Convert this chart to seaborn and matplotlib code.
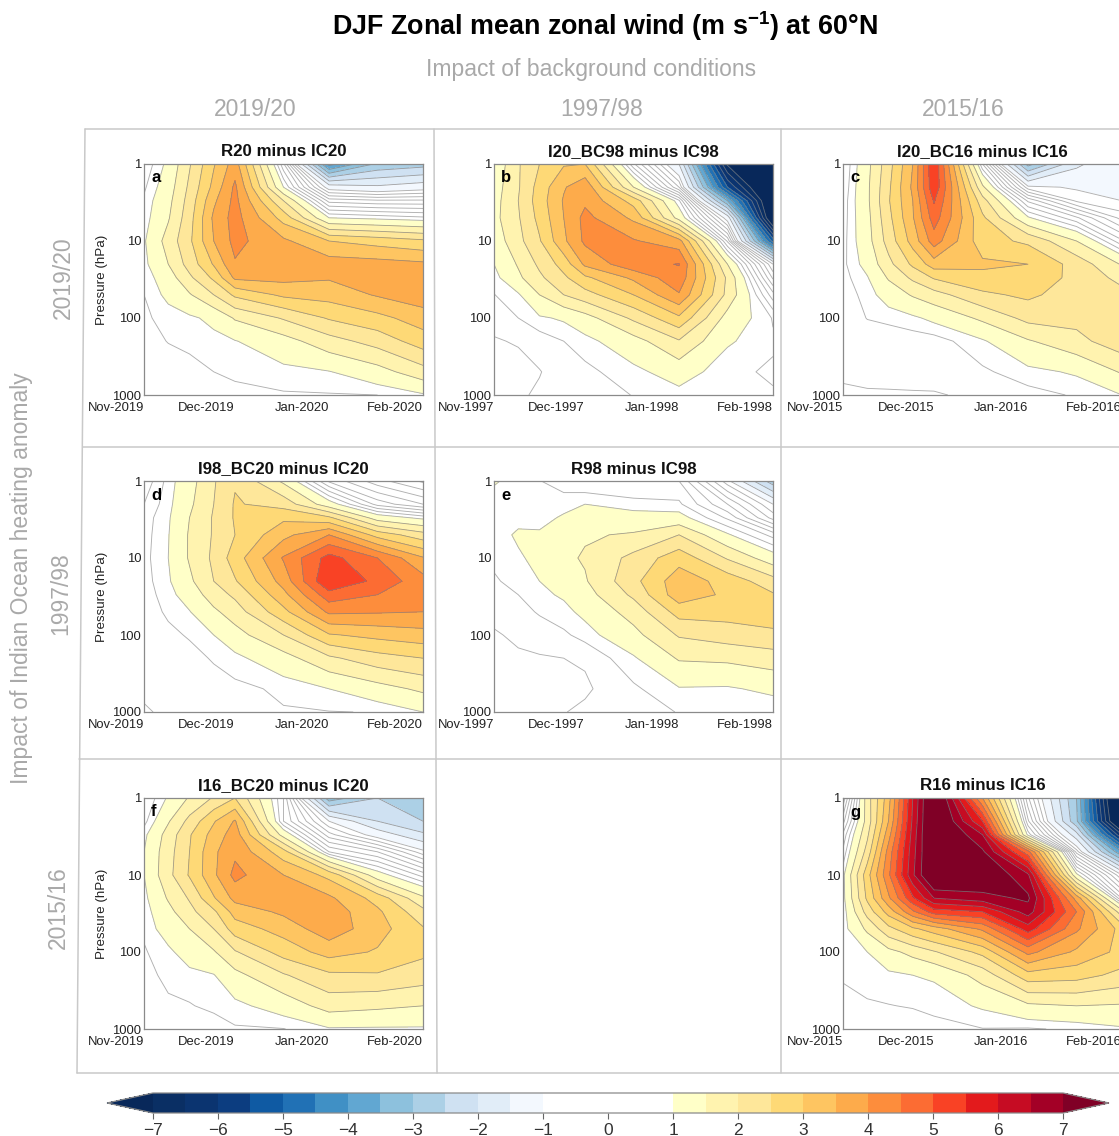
import numpy as np
import matplotlib
matplotlib.use('Agg')
import matplotlib.pyplot as plt
import seaborn as sns
from matplotlib.colors import ListedColormap, BoundaryNorm
from matplotlib.lines import Line2D
from matplotlib.ticker import FixedLocator, NullFormatter

sns.set_theme(style='ticks')
plt.rcParams['font.family'] = ['Liberation Sans', 'DejaVu Sans']
plt.rcParams['mathtext.default'] = 'regular'

W, H = 1119, 1136
GREY = '#a9a9a9'

# days since 1 Nov, pressure levels
days = [0, 8, 15, 23, 30, 46, 61, 77, 92]
pressure = [1, 2, 3, 5, 10, 20, 30, 50, 100, 200, 500, 1000]

# colours of the shading, every 0.5 m/s from -7 to 7 (white between -1 and 1)
blues = ['#0a2f64', '#0b3470', '#0c3d80', '#0f5aa3', '#2171b5', '#4090c5',
         '#61a7d2', '#8dc1dd', '#acd0e6', '#cfe1f2', '#e1edf8', '#f3f8fe']
whites = ['#ffffff'] * 4
warms = ['#ffffc8', '#fff3af', '#fee79a', '#fed976', '#fec561', '#fdab4b',
         '#fd8d3c', '#fc6c33', '#f94225', '#e31a1c', '#c60c23', '#a30026']
under_col = '#08285a'
over_col = '#800026'

# zonal wind anomaly, rows = pressure, columns = days
panel_a = [
    [.55, 1.1, 1.95, 2.95, 3.75, .3, -4.2, -2.9, -2.7],
    [.7, 1.25, 2.1, 3.15, 4.1, 1.0, -1.2, -1.4, -1.2],
    [.8, 1.35, 2.2, 3.4, 4.15, 2.0, -.1, -.2, -.2],
    [.85, 1.45, 2.3, 3.6, 4.2, 2.8, 1.0, .9, .8],
    [.95, 1.7, 2.4, 3.5, 4.15, 3.6, 3.0, 2.8, 2.6],
    [.9, 1.5, 2.2, 3.05, 3.95, 3.8, 3.75, 3.7, 3.6],
    [.82, 1.25, 1.9, 2.6, 3.6, 3.65, 3.55, 3.8, 3.85],
    [.75, 1.1, 1.45, 2.0, 2.6, 3.1, 3.2, 3.55, 3.8],
    [.7, .85, .93, 1.1, 1.55, 2.05, 2.55, 2.85, 3.25],
    [.65, .76, .8, .9, .98, 1.3, 1.8, 2.2, 2.75],
    [.6, .62, .68, .75, .82, .9, .98, 1.3, 1.8],
    [.55, .57, .6, .62, .65, .72, .73, .75, .95],
]
panel_b = [
    [1.1, 1.95, 2.5, 2.95, 3.0, .3, -1.5, -7.1, -8.5],
    [1.25, 1.95, 2.7, 3.45, 3.85, 1.5, -.5, -5.5, -8.5],
    [1.3, 2.0, 2.75, 3.55, 3.9, 2.8, .8, -3.5, -8.2],
    [1.35, 1.95, 2.65, 3.5, 4.15, 3.4, 1.3, -1.2, -8.0],
    [1.2, 1.85, 2.45, 3.4, 4.1, 4.05, 3.7, .2, -5.2],
    [1.0, 1.55, 2.1, 2.7, 3.6, 4.35, 4.52, 1.5, -1.0],
    [.87, 1.4, 1.9, 2.4, 2.9, 3.6, 4.35, 1.9, -.55],
    [.74, .95, 1.5, 2.0, 2.3, 3.0, 3.95, 1.85, .1],
    [.58, .75, .95, 1.05, 1.3, 2.1, 2.9, 1.3, .73],
    [.48, .52, .6, .75, .88, 1.3, 1.95, 1.05, .78],
    [.38, .42, .49, .6, .68, .9, 1.2, .8, .72],
    [.35, .47, .53, .55, .6, .76, .88, .76, .77],
]
panel_c = [
    [.5, 1.35, 2.3, 3.5, 5.5, .5, -3.2, -1.6, -1.05],
    [.55, 1.4, 2.4, 3.6, 5.4, 1.6, -.9, -1.05, -1.2],
    [.6, 1.4, 2.45, 3.5, 5.05, 2.2, .2, -.8, -1.0],
    [.62, 1.35, 2.35, 3.45, 4.75, 2.6, 1.05, .3, -.6],
    [.65, 1.3, 2.2, 3.2, 4.25, 2.7, 2.4, 1.5, .3],
    [.68, 1.15, 1.85, 2.6, 3.25, 3.1, 3.0, 2.3, 1.45],
    [.65, .97, 1.55, 2.1, 2.55, 2.85, 2.85, 2.35, 1.85],
    [.6, .85, 1.2, 1.55, 1.8, 2.4, 2.6, 2.25, 2.15],
    [.58, .76, .82, .93, 1.1, 1.6, 2.15, 2.15, 2.4],
    [.55, .6, .58, .6, .62, .95, 1.45, 1.85, 2.3],
    [.52, .55, .56, .58, .6, .7, .9, 1.05, 1.55],
    [.48, .48, .48, .48, .48, .55, .65, .78, 1.0],
]
panel_d = [
    [.3, .85, 1.3, 1.95, 2.45, 1.4, -.05, -.65, -1.05],
    [.5, .9, 1.4, 2.0, 2.55, 2.3, 1.2, .15, -.25],
    [.62, .95, 1.5, 2.05, 2.55, 2.9, 2.6, 1.25, .9],
    [.64, .98, 1.55, 2.05, 2.5, 3.35, 4.0, 2.8, 2.2],
    [.66, 1.0, 1.55, 2.1, 2.75, 4.05, 5.2, 4.5, 3.55],
    [.64, .95, 1.4, 2.0, 2.45, 3.7, 5.5, 4.85, 4.2],
    [.62, .88, 1.2, 1.75, 2.1, 3.35, 4.8, 4.5, 4.3],
    [.6, .8, .98, 1.4, 1.75, 2.85, 4.1, 4.05, 4.0],
    [.58, .68, .78, 1.0, 1.3, 2.0, 2.95, 3.15, 3.3],
    [.56, .6, .65, .78, .9, 1.3, 1.9, 2.3, 2.5],
    [.55, .57, .6, .62, .68, .8, 1.0, 1.3, 1.6],
    [.47, .55, .58, .6, .6, .73, .74, .76, 1.0],
]
panel_e = [
    [1.05, .85, .76, .62, .5, .55, .5, -.9, -2.8],
    [.8, .8, .8, .88, 1.0, .82, .8, 0, -1.0],
    [.75, .85, .88, 1.05, 1.1, 1.2, 1.15, .45, -.6],
    [.78, 1.08, 1.05, 1.25, 1.45, 1.55, 2.0, 1.05, .4],
    [.8, .93, 1.15, 1.4, 1.55, 2.15, 2.8, 1.95, 1.2],
    [.72, .83, 1.0, 1.25, 1.45, 2.35, 3.3, 2.8, 2.2],
    [.68, .75, .92, 1.05, 1.3, 2.1, 3.3, 2.9, 2.55],
    [.58, .65, .78, .9, 1.1, 1.7, 2.7, 2.7, 2.75],
    [.47, .55, .6, .7, .85, 1.35, 2.05, 2.25, 2.4],
    [.38, .46, .48, .5, .53, .95, 1.55, 1.6, 1.75],
    [.32, .36, .4, .44, .46, .7, .97, .95, 1.1],
    [.3, .35, .4, .49, .55, .65, .76, .76, .76],
]
panel_f = [
    [.5, 1.05, 1.55, 2.05, 2.5, .5, -3.3, -2.5, -2.8],
    [.65, 1.45, 2.15, 2.95, 3.55, .5, -1.0, -2.0, -2.5],
    [.9, 1.7, 2.45, 3.2, 3.75, 1.3, -.4, -1.2, -1.9],
    [1.0, 1.8, 2.5, 3.4, 3.9, 2.7, .5, 0, -.9],
    [1.0, 1.85, 2.55, 3.4, 4.15, 3.5, 2.85, 1.2, .4],
    [.9, 1.55, 2.05, 2.95, 3.65, 3.75, 3.6, 2.8, 1.6],
    [.85, 1.35, 1.85, 2.4, 3.2, 3.6, 3.8, 3.1, 2.15],
    [.8, 1.2, 1.5, 2.0, 2.75, 3.2, 3.8, 3.2, 2.55],
    [.72, .92, 1.2, 1.45, 1.95, 2.7, 3.2, 2.95, 2.6],
    [.62, .85, .9, .98, 1.35, 1.95, 2.4, 2.45, 2.25],
    [.56, .68, .73, .82, .9, 1.2, 1.7, 1.6, 1.5],
    [.52, .57, .6, .6, .72, .74, .96, .95, .95],
]
panel_g = [
    [-.7, 1.75, 3.3, 6.0, 8.0, 4.0, -.2, -3.0, -9.0],
    [-.1, 1.7, 3.5, 6.1, 8.0, 5.5, .3, -2.9, -8.5],
    [.3, 1.9, 3.8, 6.2, 8.0, 6.5, .9, -1.8, -6.5],
    [.55, 2.2, 4.2, 6.3, 7.9, 7.1, 4.7, -.6, -4.0],
    [.9, 2.8, 4.4, 6.4, 7.9, 7.6, 6.6, 1.1, -1.0],
    [.88, 2.6, 3.9, 5.4, 6.5, 6.8, 7.1, 3.8, .2],
    [.82, 2.2, 3.2, 4.4, 5.25, 5.5, 6.75, 4.5, 1.7],
    [.85, 1.6, 2.35, 2.9, 3.25, 4.1, 5.75, 4.1, 2.8],
    [.88, 1.0, 1.35, 1.65, 1.95, 2.65, 4.15, 3.4, 2.85],
    [.82, .85, .92, 1.0, 1.05, 1.7, 2.8, 2.7, 2.35],
    [.55, .72, .74, .77, .83, 1.05, 1.4, 1.5, 1.45],
    [.5, .55, .57, .6, .65, .74, .72, .8, .95],
]

levels = list(np.arange(-7, 7.5, 0.5))
strong_levels = [v for v in levels if abs(v) > 1]
weak_levels = [-1, -.75, -.5, -.25, 0, .25, .5, .75, 1]
shades = blues + whites + warms
cmap = ListedColormap(sns.color_palette(shades))
cmap.set_under(under_col)
cmap.set_over(over_col)
norm = BoundaryNorm(levels, cmap.N)

log_p = np.log10(pressure)
minor_y = [np.log10(m * d) for d in (1, 10, 100) for m in range(2, 10)]

fig = plt.figure(figsize=(W / 100, H / 100), dpi=100)


def box(x0, y0, x1, y1):
    return [x0 / W, 1 - y1 / H, (x1 - x0) / W, (y1 - y0) / H]


def frame(x0, y0, x1, y1):
    fig.add_artist(Line2D([x0 / W, x1 / W], [1 - y0 / H, 1 - y1 / H], color='#c9c9c9', lw=1.1))


def draw_panel(x0, y0, z, letter, title, year, ylabel=False):
    ax = fig.add_axes(box(x0, y0, x0 + 279, y0 + 231))
    z = np.array(z)
    ax.contourf(days, log_p, z, levels=levels, cmap=cmap, norm=norm, extend='both')
    ax.contour(days, log_p, z, levels=strong_levels, colors='#808080', linewidths=0.6,
               linestyles='solid', alpha=0.75)
    ax.contour(days, log_p, z, levels=weak_levels, colors='#b0b0b0', linewidths=0.65,
               linestyles='solid')
    ax.set_ylim(3, 0)
    ax.set_xlim(0, 92)
    ax.set_xticks([0, 30, 61, 92])
    ax.set_xticklabels([f'Nov-{year}', f'Dec-{year}', f'Jan-{year + 1}', f'Feb-{year + 1}'],
                       ha='right', fontsize=9.4, color='#222222')
    ax.set_yticks([0, 1, 2, 3])
    ax.set_yticklabels(['1', '10', '100', '1000'], fontsize=9.4, color='#222222')
    ax.yaxis.set_minor_locator(FixedLocator(minor_y))
    ax.yaxis.set_minor_formatter(NullFormatter())
    ax.tick_params(axis='both', which='major', direction='in', length=3.5, width=0.7,
                   color='#777777', pad=2)
    ax.tick_params(axis='y', which='minor', direction='in', length=1.5, width=0.5, color='#777777')
    ax.tick_params(axis='x', pad=5)
    for s in ax.spines.values():
        s.set_color('#8a8a8a')
        s.set_linewidth(0.9)
    ax.text(7 / 279, 1 - 14 / 231, letter, transform=ax.transAxes, fontsize=12, fontweight='bold',
            ha='left', va='center', color='black')
    ax.text(0.5, 1 + 12 / 231, title, transform=ax.transAxes, fontsize=12.2, fontweight='bold',
            ha='center', va='center', color='#111111')
    if ylabel:
        fig.text((x0 - 42) / W, 1 - (y0 + 116) / H, 'Pressure (hPa)', rotation=90, fontsize=9.6,
                 ha='center', va='center', color='#222222')
    return ax


# grey boxes around the panels
frame(85, 129, 1119, 129)
frame(83, 447, 1119, 447)
frame(79, 759, 1119, 759)
frame(77, 1073, 1119, 1073)
frame(85, 129, 77, 1073)
frame(434, 129, 437, 1073)
frame(781, 129, 781, 1073)

draw_panel(144, 164, panel_a, 'a', 'R20 minus IC20', 2019, True)
draw_panel(494, 164, panel_b, 'b', 'I20_BC98 minus IC98', 1997)
draw_panel(843, 164, panel_c, 'c', 'I20_BC16 minus IC16', 2015)
draw_panel(144, 481, panel_d, 'd', 'I98_BC20 minus IC20', 2019, True)
draw_panel(494, 481, panel_e, 'e', 'R98 minus IC98', 1997)
draw_panel(144, 798, panel_f, 'f', 'I16_BC20 minus IC20', 2019, True)
draw_panel(843, 798, panel_g, 'g', 'R16 minus IC16', 2015)

# colour bar, the axes holds the two arrow ends as well
cax = fig.add_axes(box(107, 1093, 1109, 1113))
sm = plt.cm.ScalarMappable(cmap=cmap, norm=norm)
cb = fig.colorbar(sm, cax=cax, orientation='horizontal', extend='both', extendfrac=0.0505,
                  drawedges=False, spacing='uniform', ticks=list(range(-7, 8)))
cb.ax.tick_params(labelsize=12.5, length=4, width=0.8, color='#666666', pad=3, labelcolor='#333333')
cb.minorticks_off()
cb.outline.set_edgecolor('#8a8a8a')
cb.outline.set_linewidth(0.9)

# headings
fig.text(605 / W, 1 - 26 / H, 'DJF Zonal mean zonal wind (m s$^{-1}$) at 60°N', fontsize=19.35,
         fontweight='bold', ha='center', va='center', color='black')
fig.text(591 / W, 1 - 69.5 / H, 'Impact of background conditions', fontsize=16.5, ha='center',
         va='center', color=GREY)
for cx, label in zip([255, 602, 963], ['2019/20', '1997/98', '2015/16']):
    fig.text(cx / W, 1 - 109.5 / H, label, fontsize=16.5, ha='center', va='center', color=GREY)
for cx, cy, label in zip([63, 61, 58], [278, 594, 908], ['2019/20', '1997/98', '2015/16']):
    fig.text(cx / W, 1 - cy / H, label, fontsize=16.5, rotation=90, ha='center', va='center', color=GREY)
fig.text(22 / W, 1 - 578 / H, 'Impact of Indian Ocean heating anomaly', fontsize=16.5, rotation=90,
         ha='center', va='center', color=GREY)

fig.savefig('out.png', dpi=100)
